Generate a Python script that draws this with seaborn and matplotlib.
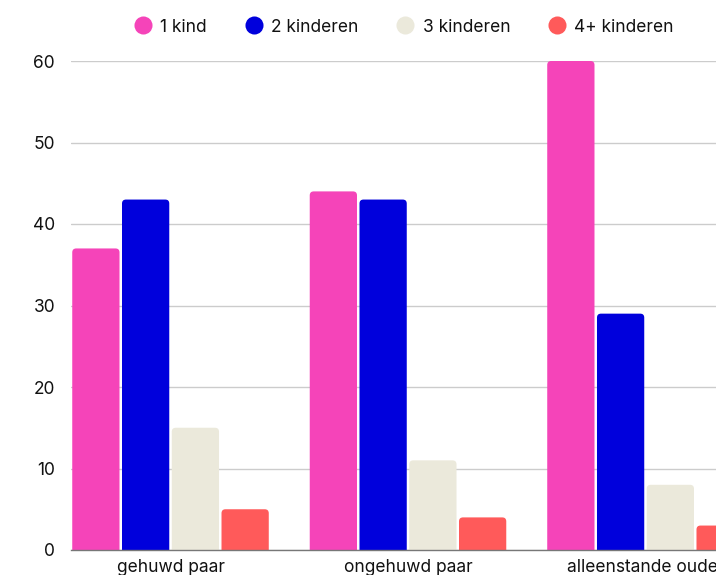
import matplotlib
matplotlib.use("Agg")
import matplotlib.pyplot as plt
import seaborn as sns
import pandas as pd
from matplotlib.patches import PathPatch
from matplotlib.path import Path
from matplotlib.lines import Line2D

categories = ["gehuwd paar", "ongehuwd paar", "alleenstande ouder"]
series = ["1 kind", "2 kinderen", "3 kinderen", "4+ kinderen"]
v_1kind = [37, 44, 60]
v_2kind = [43, 43, 29]
v_3kind = [15, 11, 8]
v_4kind = [5, 4, 3]
colors = ["#F544B9", "#0000DC", "#EBE9DB", "#FF5A5A"]
yticks = [0, 10, 20, 30, 40, 50, 60]

rows = []
for s, vals in zip(series, [v_1kind, v_2kind, v_3kind, v_4kind]):
    for c, v in zip(categories, vals):
        rows.append({"groep": c, "serie": s, "waarde": v})
df = pd.DataFrame(rows)

sns.set_theme(style="white")
plt.rcParams["font.family"] = ["Inter", "DejaVu Sans"]

W, H = 716, 575
fig = plt.figure(figsize=(W / 100, H / 100), dpi=100)
left_px, right_px, top_px, bot_px = 71, 745, 61, 550
ax = fig.add_axes([left_px / W, (H - bot_px) / H, (right_px - left_px) / W, (bot_px - top_px) / H])

sns.barplot(data=df, x="groep", y="waarde", hue="serie", order=categories,
            hue_order=series, palette=colors, width=0.838, gap=0.05,
            saturation=1, ax=ax, legend=False, edgecolor="none", linewidth=0)

ax.set_xlim(-0.419, 2.419)
ax.set_ylim(0, 60)

# rounded top corners: redraw each seaborn bar as one path
xunit_px = (right_px - left_px) / (2.419 + 0.419)
yunit_px = (bot_px - top_px) / 60.0
r_px = 4.0
rx = r_px / xunit_px
ry = r_px / yunit_px
for p in list(ax.patches):
    x, w, h = p.get_x(), p.get_width(), p.get_height()
    if h <= 0:
        continue
    fc = p.get_facecolor()
    p.set_visible(False)
    r_y = min(ry, h)
    verts = [(x, 0), (x, h - r_y), (x, h), (x + rx, h),
             (x + w - rx, h), (x + w, h), (x + w, h - r_y), (x + w, 0), (x, 0)]
    codes = [Path.MOVETO, Path.LINETO, Path.CURVE3, Path.CURVE3,
             Path.LINETO, Path.CURVE3, Path.CURVE3, Path.LINETO, Path.CLOSEPOLY]
    ax.add_patch(PathPatch(Path(verts, codes), facecolor=fc, edgecolor="none",
                           linewidth=0, zorder=2))

ax.set_yticks(yticks)
ax.set_yticklabels([str(t) for t in yticks])
ax.yaxis.grid(True, color="#CCCCCC", linewidth=1)
ax.set_axisbelow(True)
for s in ["left", "right", "top"]:
    ax.spines[s].set_visible(False)
ax.spines["bottom"].set_color("#777777")
ax.spines["bottom"].set_linewidth(1)
ax.spines["bottom"].set_zorder(3)
ax.tick_params(axis="y", length=0, pad=11.5, labelsize=12.5, labelcolor="#111111")
ax.tick_params(axis="x", length=0, pad=6.5, labelsize=12.5, labelcolor="#111111")
ax.set_xlabel("")
ax.set_ylabel("")

handles = [Line2D([0], [0], marker="o", linestyle="none", markersize=13,
                  markerfacecolor=c, markeredgecolor="none") for c in colors]
fig.legend(handles, series, loc="center", bbox_to_anchor=(404 / W, 1 - 27 / H),
           ncol=4, frameon=False, fontsize=12.5, handlelength=1.0,
           handletextpad=0.5, columnspacing=2.2, labelcolor="#111111")

fig.savefig("out.png", dpi=100)
